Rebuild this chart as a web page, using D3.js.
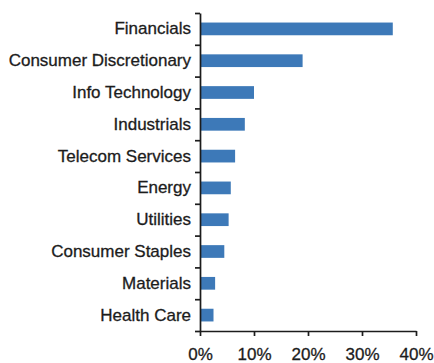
<!DOCTYPE html>
<html>
<head>
<meta charset="utf-8">
<script src="https://cdn.jsdelivr.net/npm/d3@7"></script>
<style>
  body { margin: 0; background: #fff; }
  svg { display: block; }
</style>
</head>
<body>
<div id="chart"></div>
<script>
// sector weights, %
const sectors = ["Financials", "Consumer Discretionary", "Info Technology", "Industrials",
  "Telecom Services", "Energy", "Utilities", "Consumer Staples", "Materials", "Health Care"];
const weights = [35.7, 19.0, 10.0, 8.3, 6.5, 5.7, 5.3, 4.5, 2.8, 2.5];
const xTicks = [0, 10, 20, 30, 40];

const width = 434;
const height = 363;
const margin = {top: 13, right: 18, bottom: 32, left: 200};
const barColor = "#3d79b8";
const inkColor = "#1c1c1c";

const data = sectors.map((s, i) => ({sector: s, value: weights[i]}));

const svg = d3.select("#chart").append("svg")
  .attr("width", width)
  .attr("height", height);

const x = d3.scaleLinear()
  .domain([0, 40])
  .range([margin.left, width - margin.right]);

const y = d3.scaleBand()
  .domain(sectors)
  .range([margin.top, height - margin.bottom])
  .paddingInner(0.6)
  .paddingOuter(0.3);

// boundaries between categories, for the tick marks on the y axis
const yEdge = d3.scaleLinear()
  .domain([0, sectors.length])
  .range([margin.top, height - margin.bottom]);

// bars
svg.append("g")
  .selectAll("rect")
  .data(data)
  .join("rect")
  .attr("x", x(0))
  .attr("y", d => y(d.sector))
  .attr("width", d => x(d.value) - x(0))
  .attr("height", y.bandwidth())
  .attr("fill", barColor);

function styleText(sel) {
  sel.style("font-family", "'Liberation Sans', Arial, sans-serif")
    .style("font-size", "17px")
    .attr("fill", inkColor)
    .attr("stroke", inkColor)
    .attr("stroke-width", 0.3);
}

// y axis: category labels
const yLabels = svg.append("g")
  .attr("transform", `translate(${margin.left},0)`)
  .call(d3.axisLeft(y).tickSize(0).tickPadding(9));
yLabels.select(".domain").remove();
yLabels.selectAll("text").call(styleText);

// y axis: line and boundary ticks
const yLine = svg.append("g")
  .attr("transform", `translate(${margin.left},0)`)
  .call(d3.axisLeft(yEdge).tickValues(d3.range(sectors.length + 1)).tickSize(5).tickSizeOuter(0).tickFormat(""));
yLine.selectAll("path, line")
  .attr("stroke", inkColor)
  .attr("stroke-width", 1.7);

// x axis
const xAxis = svg.append("g")
  .attr("transform", `translate(0,${height - margin.bottom})`)
  .call(d3.axisBottom(x).tickValues(xTicks).tickFormat(d => d + "%").tickSize(5).tickSizeOuter(0).tickPadding(12));
xAxis.selectAll("path, line")
  .attr("stroke", inkColor)
  .attr("stroke-width", 1.7);
xAxis.selectAll("text").call(styleText);
</script>
</body>
</html>
